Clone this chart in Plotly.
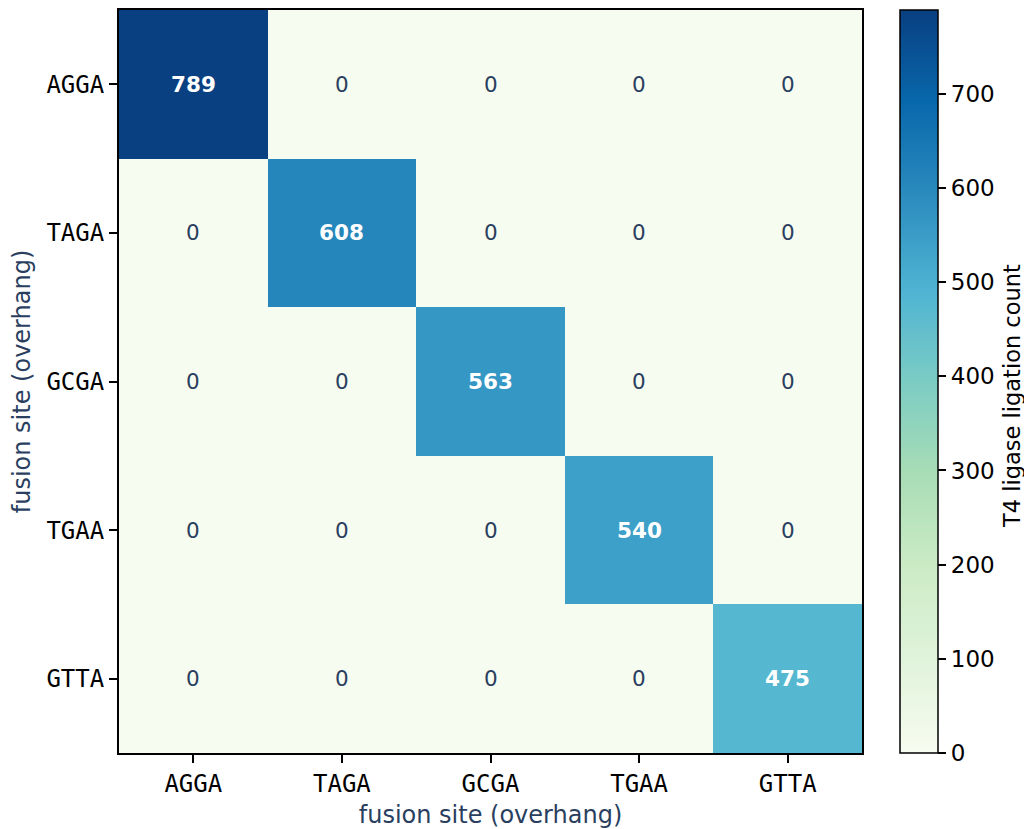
import plotly.graph_objects as go

sites = ["AGGA", "TAGA", "GCGA", "TGAA", "GTTA"]
diag_counts = [789, 608, 563, 540, 475]
cbar_ticks = [0, 100, 200, 300, 400, 500, 600, 700]

z = [[diag_counts[i] if i == j else 0 for j in range(len(sites))] for i in range(len(sites))]

fig = go.Figure()
fig.add_trace(go.Heatmap(
    z=z, x=sites, y=sites,
    colorscale="GnBu", zmin=0, zmax=max(diag_counts),
    showscale=True,
    colorbar=dict(
        thickness=38, len=1, lenmode="fraction", y=0.5, yanchor="middle",
        x=1.051, xanchor="left", xpad=0, ypad=0,
        outlinewidth=1.5, outlinecolor="black",
        tickvals=cbar_ticks,
        ticks="outside", ticklen=8, tickwidth=1.5, tickcolor="black",
        tickfont=dict(family="DejaVu Sans", size=23, color="black"),
    ),
    hoverinfo="skip",
))

annotations = []
for i, row in enumerate(z):
    for j, v in enumerate(row):
        diag = i == j
        annotations.append(dict(
            x=sites[j], y=sites[i], text=f"<b>{v}</b>" if diag else str(v),
            showarrow=False,
            font=dict(family="DejaVu Sans", size=21.5,
                      color="white" if diag else "#2a3f5f"),
        ))

annotations.append(dict(
    text="T4 ligase ligation count", textangle=-90,
    xref="paper", yref="paper", x=1.2019, y=0.4805,
    xanchor="center", yanchor="middle", showarrow=False,
    font=dict(family="DejaVu Sans", size=22.5, color="black"),
))

fig.update_layout(
    width=1024, height=821,
    margin=dict(l=111, r=170, t=0, b=76),
    paper_bgcolor="white", plot_bgcolor="white",
    annotations=annotations,
    xaxis=dict(
        title=dict(text="fusion site (overhang)", standoff=9,
                   font=dict(family="DejaVu Sans", size=24, color="#2a3f5f")),
        tickfont=dict(family="DejaVu Sans Mono", size=24, color="black"),
        ticks="outside", ticklen=8, tickwidth=1.5, tickcolor="black",
        showline=True, linecolor="black", linewidth=2, mirror=True,
        showgrid=False, zeroline=False,
    ),
    yaxis=dict(
        title=dict(text="fusion site (overhang)", standoff=12,
                   font=dict(family="DejaVu Sans", size=24, color="#2a3f5f")),
        tickfont=dict(family="DejaVu Sans Mono", size=24, color="black"),
        ticks="outside", ticklen=8, tickwidth=1.5, tickcolor="black",
        showline=True, linecolor="black", linewidth=2, mirror=True,
        showgrid=False, zeroline=False, autorange="reversed",
    ),
)

fig.write_html("out.html")
